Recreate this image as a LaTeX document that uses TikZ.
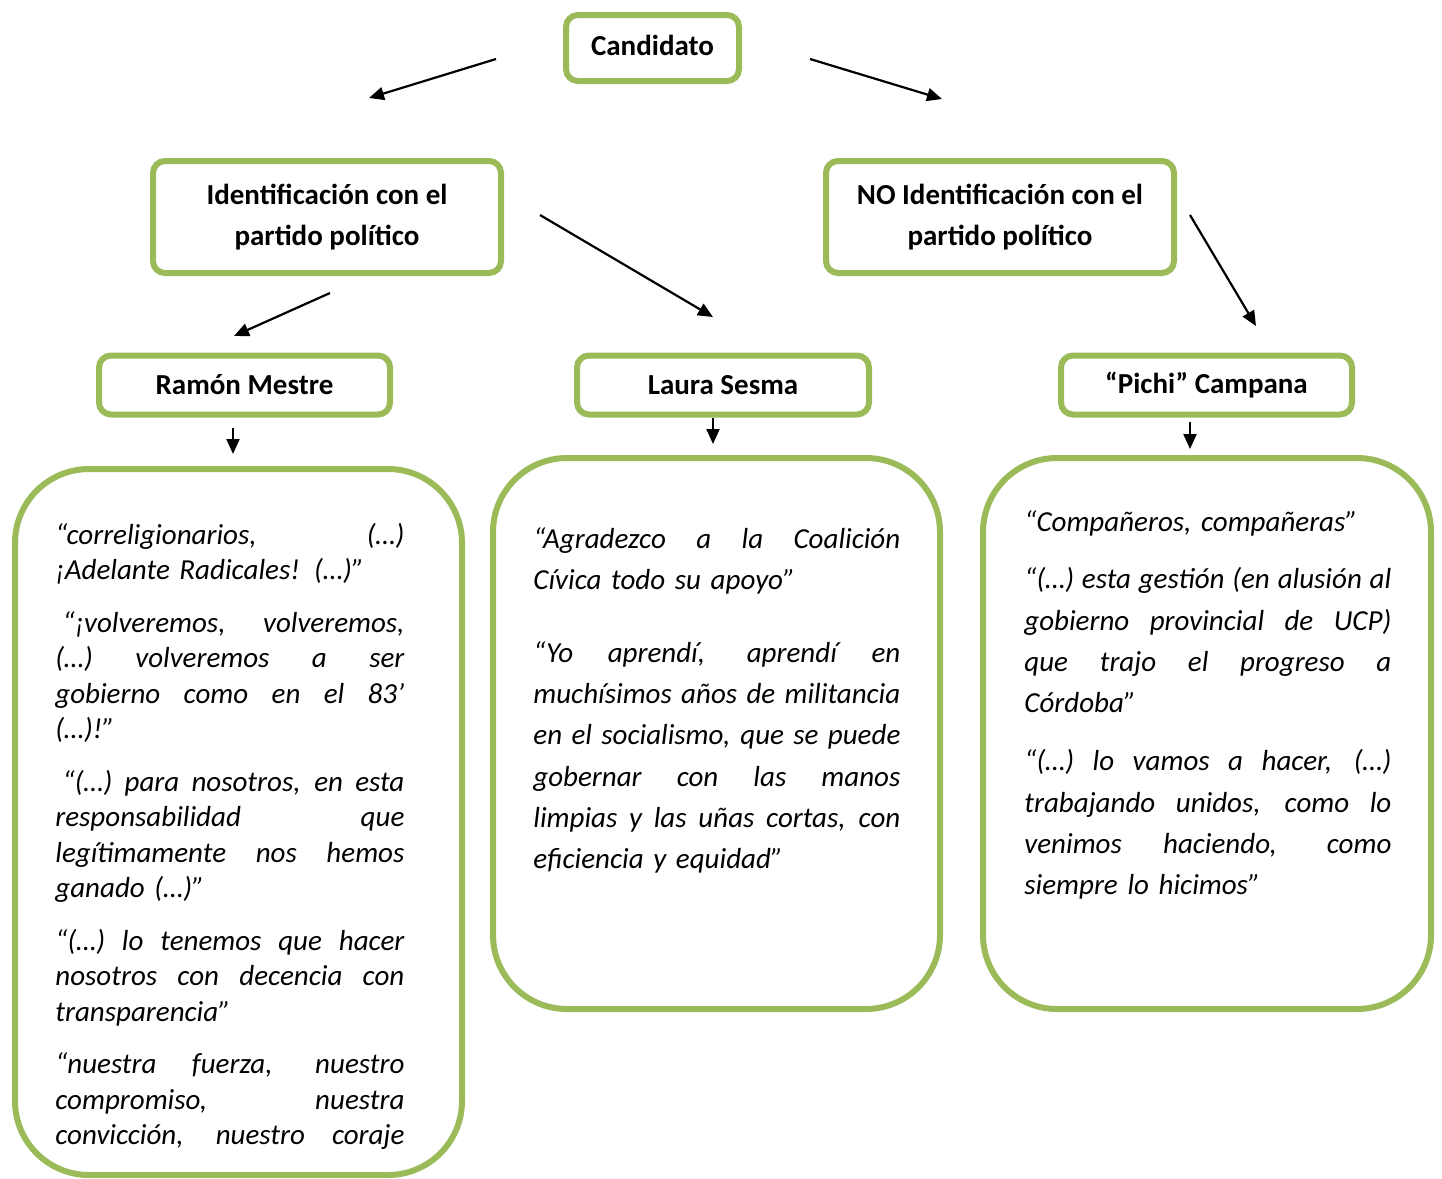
\documentclass[tikz,border=0pt]{standalone}
\usepackage{fontspec}
\setmainfont{Carlito}
\usetikzlibrary{arrows.meta}
\definecolor{verdeoliva}{HTML}{9BBB59}
\newcommand{\jl}[1]{\makebox[\hsize][s]{\spaceskip=\fontdimen2\font plus 1fil minus 0.1em\relax #1}\par}
\newcommand{\ultlin}[1]{#1\par}
\tikzset{
    caja/.style={draw=verdeoliva, line width=3pt, rounded corners=6pt, align=center,
        inner sep=0pt, font=\fontsize{14.5}{20.5}\selectfont\bfseries},
    marco/.style={draw=verdeoliva, line width=3pt, rounded corners=37pt},
    cita/.style={anchor=base west, inner sep=0pt, font=\fontsize{14.5}{17.75}\selectfont\itshape},
    citaamplia/.style={cita, font=\fontsize{14.5}{20.65}\selectfont\itshape},
    flecha/.style={-{Triangle[length=7.5pt,width=6.5pt]}, line width=1.1pt}
}
\begin{document}
\begin{tikzpicture}[x=0.5pt, y=-0.5pt]
    \useasboundingbox (0,0) rectangle (1442,1179);
    \node[caja, minimum width=86.5pt, minimum height=33pt] (cand) at (652.5,48) {Candidato\vphantom{p}};
    \node[caja, minimum width=174pt, minimum height=56pt] (ident) at (327,217) {Identificación con el\\partido político};
    \node[caja, minimum width=174pt, minimum height=56pt] (noident) at (1000,217) {NO Identificación con el\\partido político};
    \node[caja, minimum width=145.5pt, minimum height=29.5pt] (mestre) at (244.5,385) {Ramón Mestre};
    \node[caja, minimum width=146pt, minimum height=29.5pt] (sesma) at (723,385) {Laura Sesma};
    \node[caja, minimum width=145.5pt, minimum height=29.5pt] (campana) at (1206.5,385) {“Pichi” Campana};
    \node[marco, minimum width=223.5pt, minimum height=353pt] (mMestre) at (238.5,822) {};
    \node[marco, minimum width=223.5pt, minimum height=275.5pt] (mSesma) at (716.5,733.5) {};
    \node[marco, minimum width=224pt, minimum height=275.5pt] (mCampana) at (1207,733.5) {};
    \node[cita, text width=174.5pt] (tMestre) at (55,544) {%
        \jl{“correligionarios, (…)}
        \ultlin{¡Adelante Radicales! (…)”}
        \vspace{8.5pt}
        \jl{\hspace*{0.25em}“¡volveremos, volveremos,}
        \jl{(…) volveremos a ser}
        \jl{gobierno como en el 83’}
        \ultlin{(…)!”}
        \vspace{8.5pt}
        \jl{\hspace*{0.25em}“(…) para nosotros, en esta}
        \jl{responsabilidad que}
        \jl{legítimamente nos hemos}
        \ultlin{ganado (…)”}
        \vspace{8.5pt}
        \jl{“(…) lo tenemos que hacer}
        \jl{nosotros con decencia con}
        \ultlin{transparencia”}
        \vspace{8.5pt}
        \jl{“nuestra fuerza, nuestro}
        \jl{compromiso, nuestra}
        \jl{convicción, nuestro coraje}};
    \node[citaamplia, text width=183.5pt] (tSesma) at (533,548) {%
        \jl{“Agradezco a la Coalición}
        \ultlin{Cívica todo su apoyo”}
        \vspace{15.8pt}
        \jl{“Yo aprendí, aprendí en}
        \jl{muchísimos años de militancia}
        \jl{en el socialismo, que se puede}
        \jl{gobernar con las manos}
        \jl{limpias y las uñas cortas, con}
        \ultlin{eficiencia y equidad”}};
    \node[citaamplia, text width=183.5pt] (tCampana) at (1024,531) {%
        \ultlin{“Compañeros, compañeras”}
        \vspace{8.3pt}
        \jl{“(…) esta gestión (en alusión al}
        \jl{gobierno provincial de UCP)}
        \jl{que trajo el progreso a}
        \ultlin{Córdoba”}
        \vspace{8.3pt}
        \jl{“(…) lo vamos a hacer, (…)}
        \jl{trabajando unidos, como lo}
        \jl{venimos haciendo, como}
        \ultlin{siempre lo hicimos”}};
    \coordinate (candIzq) at (496,59);
    \coordinate (identArr) at (369,98);
    \coordinate (candDer) at (810,59);
    \coordinate (noidentArr) at (942,99);
    \coordinate (identAba) at (330,293);
    \coordinate (mestreArr) at (234,336);
    \coordinate (identDer) at (540,215);
    \coordinate (sesmaArr) at (713,317);
    \coordinate (noidentDer) at (1190,215);
    \coordinate (campanaArr) at (1256,326);
    \coordinate (mestreAba) at (233,428);
    \coordinate (mMestreArr) at (233,454);
    \coordinate (sesmaAba) at (713,418);
    \coordinate (mSesmaArr) at (713,444);
    \coordinate (campanaAba) at (1190,422);
    \coordinate (mCampanaArr) at (1190,449);
    \draw[flecha] (candIzq) -- (identArr);
    \draw[flecha] (candDer) -- (noidentArr);
    \draw[flecha] (identAba) -- (mestreArr);
    \draw[flecha] (identDer) -- (sesmaArr);
    \draw[flecha] (noidentDer) -- (campanaArr);
    \draw[flecha] (mestreAba) -- (mMestreArr);
    \draw[flecha] (sesmaAba) -- (mSesmaArr);
    \draw[flecha] (campanaAba) -- (mCampanaArr);
\end{tikzpicture}
\end{document}
